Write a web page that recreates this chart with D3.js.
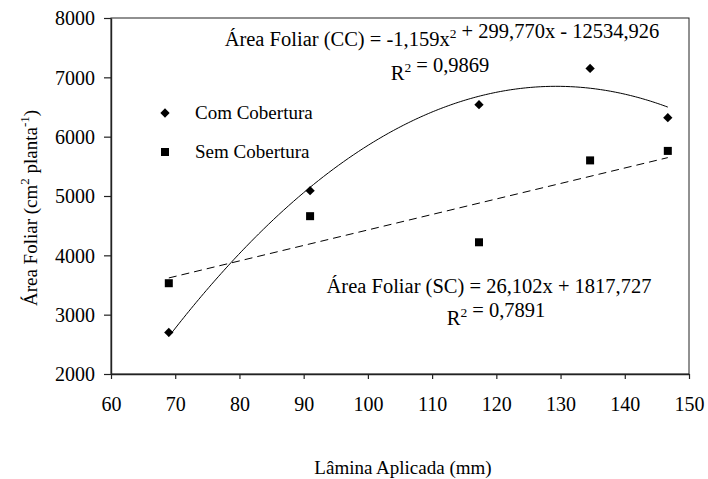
<!DOCTYPE html>
<html><head><meta charset="utf-8">
<script src="https://cdn.jsdelivr.net/npm/d3@7"></script>
<style>
html,body{margin:0;padding:0;background:#fff;}
svg{display:block;font-family:"Liberation Serif","Times New Roman",serif;}
</style></head>
<body>
<svg id="chart" width="708" height="479"></svg>
<script>
const laminas = [69, 91, 117.3, 134.6, 146.7];
const comCobertura = [2700, 5090, 6540, 7150, 6320];
const semCobertura = [3530, 4660, 4220, 5600, 5760];
const xTicks = [60, 70, 80, 90, 100, 110, 120, 130, 140, 150];
const yTicks = [2000, 3000, 4000, 5000, 6000, 7000, 8000];
const coefCC = [-1.159, 299.770, -12534.926];
const coefSC = [26.102, 1817.727];

const svg = d3.select("#chart");
const L = 111, R = 689, T = 18, B = 374;
const x = d3.scaleLinear().domain([60, 150]).range([L, R]);
const y = d3.scaleLinear().domain([2000, 8000]).range([B, T]);

svg.append("rect").attr("x", L).attr("y", T).attr("width", R - L).attr("height", B - T)
  .attr("fill", "none").attr("stroke", "#222").attr("stroke-width", 1);

const gx = svg.append("g").attr("transform", `translate(0,${B})`)
  .call(d3.axisBottom(x).tickValues(xTicks).tickSize(5).tickSizeOuter(0).tickFormat(d3.format("d")));
const gy = svg.append("g").attr("transform", `translate(${L},0)`)
  .call(d3.axisLeft(y).tickValues(yTicks).tickSize(7).tickSizeOuter(0).tickFormat(d3.format("d")));
[gx, gy].forEach(g => {
  g.select(".domain").attr("stroke", "#222").attr("stroke-width", 1.4);
  g.selectAll(".tick line").attr("stroke", "#222").attr("stroke-width", 1.2);
  g.selectAll(".tick text").attr("fill", "#000").style("font-size", "20px")
    .style("font-family", '"Liberation Serif","Times New Roman",serif');
});
gx.selectAll(".tick text").attr("y", 37).attr("dy", null);
gy.selectAll(".tick text").attr("x", -16).attr("dy", "0.34em");

const fCC = v => coefCC[0] * v * v + coefCC[1] * v + coefCC[2];
const fSC = v => coefSC[0] * v + coefSC[1];
const xs = d3.range(0, 201).map(i => laminas[0] + (laminas[laminas.length - 1] - laminas[0]) * i / 200);
const line = d3.line().x(d => x(d[0])).y(d => y(d[1]));
svg.append("path").attr("d", line(xs.map(v => [v, fCC(v)])))
  .attr("fill", "none").attr("stroke", "#000").attr("stroke-width", 1);
svg.append("path").attr("d", line([laminas[0], laminas[laminas.length - 1]].map(v => [v, fSC(v)])))
  .attr("fill", "none").attr("stroke", "#000").attr("stroke-width", 1).attr("stroke-dasharray", "8,5");

const diamond = d3.symbol().type(d3.symbolDiamond2).size(55);
svg.append("g").selectAll("path").data(laminas).join("path")
  .attr("d", diamond).attr("transform", (d, i) => `translate(${x(d)},${y(comCobertura[i])})`)
  .attr("fill", "#000");
svg.append("g").selectAll("rect").data(laminas).join("rect")
  .attr("x", d => x(d) - 4).attr("y", (d, i) => y(semCobertura[i]) - 4)
  .attr("width", 8).attr("height", 8).attr("fill", "#000");

svg.append("path").attr("d", diamond).attr("transform", "translate(165,113)").attr("fill", "#000");
svg.append("rect").attr("x", 161).attr("y", 148).attr("width", 8).attr("height", 8).attr("fill", "#000");
svg.append("text").attr("x", 195).attr("y", 119).style("font-size", "19px").text("Com Cobertura");
svg.append("text").attr("x", 195).attr("y", 158).style("font-size", "19px").text("Sem Cobertura");

function eq(cx, cy, parts) {
  const t = svg.append("text").attr("x", cx).attr("y", cy).attr("text-anchor", "middle").style("font-size", "20.5px");
  parts.forEach(p => {
    if (typeof p === "string") t.append("tspan").text(p);
    else t.append("tspan").attr("dy", p.dy).style("font-size", "13.5px").text(p.s);
  });
  return t;
}
eq(442, 46, ["Área Foliar (CC) = -1,159x", {s: "2", dy: -8}, {s: "", dy: 8}, " + 299,770x - 12534,926"]);
eq(440, 80, ["R", {s: "2", dy: -8}, {s: "", dy: 8}, " = 0,9869"]);
eq(489, 293, ["Área Foliar (SC) = 26,102x + 1817,727"]);
eq(496, 325, ["R", {s: "2", dy: -8}, {s: "", dy: 8}, " = 0,7891"]);

svg.append("text").attr("x", 403).attr("y", 474).attr("text-anchor", "middle").style("font-size", "19px")
  .text("Lâmina Aplicada (mm)");
const yl = svg.append("text").attr("transform", "translate(37,208) rotate(-90)").attr("text-anchor", "middle")
  .style("font-size", "19px");
yl.append("tspan").text("Área Foliar (cm");
yl.append("tspan").attr("dy", -8).style("font-size", "13px").text("2");
yl.append("tspan").attr("dy", 8).text(" planta");
yl.append("tspan").attr("dy", -8).style("font-size", "13px").text("-1");
yl.append("tspan").attr("dy", 8).text(")");
</script>
</body></html>
